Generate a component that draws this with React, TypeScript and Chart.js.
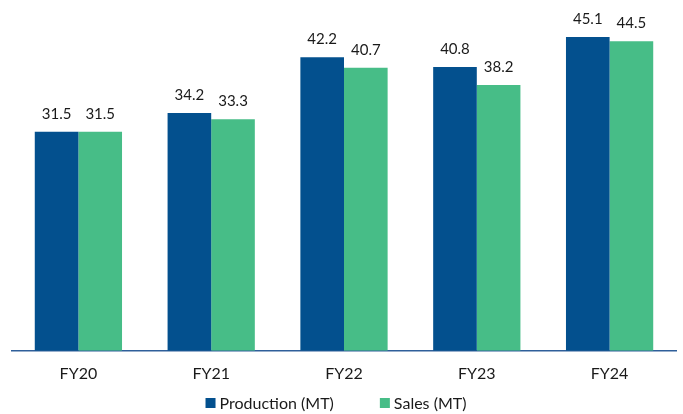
import React, { useEffect, useRef } from "react";
import { Chart, registerables } from "chart.js";

Chart.register(...registerables);

const categories = ["FY20", "FY21", "FY22", "FY23", "FY24"];
const production = [31.5, 34.2, 42.2, 40.8, 45.1];
const sales = [31.5, 33.3, 40.7, 38.2, 44.5];

const FONT = "Lato, 'Open Sans', sans-serif";
const TEXT = "#1a1a1a";

// Writes each bar's value just above its top edge.
const valueLabels = {
  id: "valueLabels",
  afterDatasetsDraw(chart: any) {
    const ctx = chart.ctx;
    ctx.save();
    ctx.font = `15px ${FONT}`;
    ctx.fillStyle = TEXT;
    ctx.textAlign = "center";
    ctx.textBaseline = "alphabetic";
    chart.data.datasets.forEach((ds: any, i: number) => {
      const meta = chart.getDatasetMeta(i);
      meta.data.forEach((bar: any, j: number) => {
        ctx.fillText(ds.data[j].toFixed(1), bar.x, bar.y - 13);
      });
    });
    ctx.restore();
  },
};

// Legend row under the axis: small squares followed by the series names.
const bottomLegend = {
  id: "bottomLegend",
  afterDraw(chart: any) {
    const ctx = chart.ctx;
    ctx.save();
    ctx.font = `16px ${FONT}`;
    ctx.textBaseline = "middle";
    ctx.textAlign = "left";
    const box = 10;
    const boxGap = 4;
    const itemGap = 46;
    const items = chart.data.datasets.map((ds: any) => ({
      label: ds.label,
      color: ds.backgroundColor,
      w: box + boxGap + ctx.measureText(ds.label).width,
    }));
    const total = items.reduce((s: number, it: any) => s + it.w, 0) + itemGap * (items.length - 1);
    let x = 336 - total / 2;
    const cy = 403;
    items.forEach((it: any) => {
      ctx.fillStyle = it.color;
      ctx.fillRect(x, cy - box / 2, box, box);
      ctx.fillStyle = TEXT;
      ctx.fillText(it.label, x + box + boxGap, cy + 1);
      x += it.w + itemGap;
    });
    ctx.restore();
  },
};

export default function App() {
  const ref = useRef<HTMLCanvasElement>(null);

  useEffect(() => {
    if (!ref.current) return;
    const chart = new Chart(ref.current, {
      type: "bar",
      data: {
        labels: categories,
        datasets: [
          {
            label: "Production (MT)",
            data: production,
            backgroundColor: "#03508E",
            barPercentage: 1.0,
            categoryPercentage: 0.657,
          },
          {
            label: "Sales (MT)",
            data: sales,
            backgroundColor: "#47BD87",
            barPercentage: 1.0,
            categoryPercentage: 0.657,
          },
        ],
      },
      options: {
        animation: false,
        responsive: false,
        layout: { padding: { top: 3, left: 12, right: 7, bottom: 18 } },
        scales: {
          x: {
            grid: { display: false, drawTicks: false },
            border: { color: "#2f5f9a", width: 1.5 },
            ticks: {
              color: TEXT,
              font: { size: 16, family: FONT },
              padding: 13,
            },
          },
          y: {
            display: false,
            min: 0,
            max: 50,
          },
        },
        plugins: {
          legend: { display: false },
          tooltip: { enabled: false },
        },
      },
      plugins: [valueLabels, bottomLegend],
    });
    return () => chart.destroy();
  }, []);

  return (
    <div style={{ position: "absolute", left: 0, top: 0, width: 683, height: 414, background: "#fff" }}>
      <canvas ref={ref} width={683} height={414} />
    </div>
  );
}
